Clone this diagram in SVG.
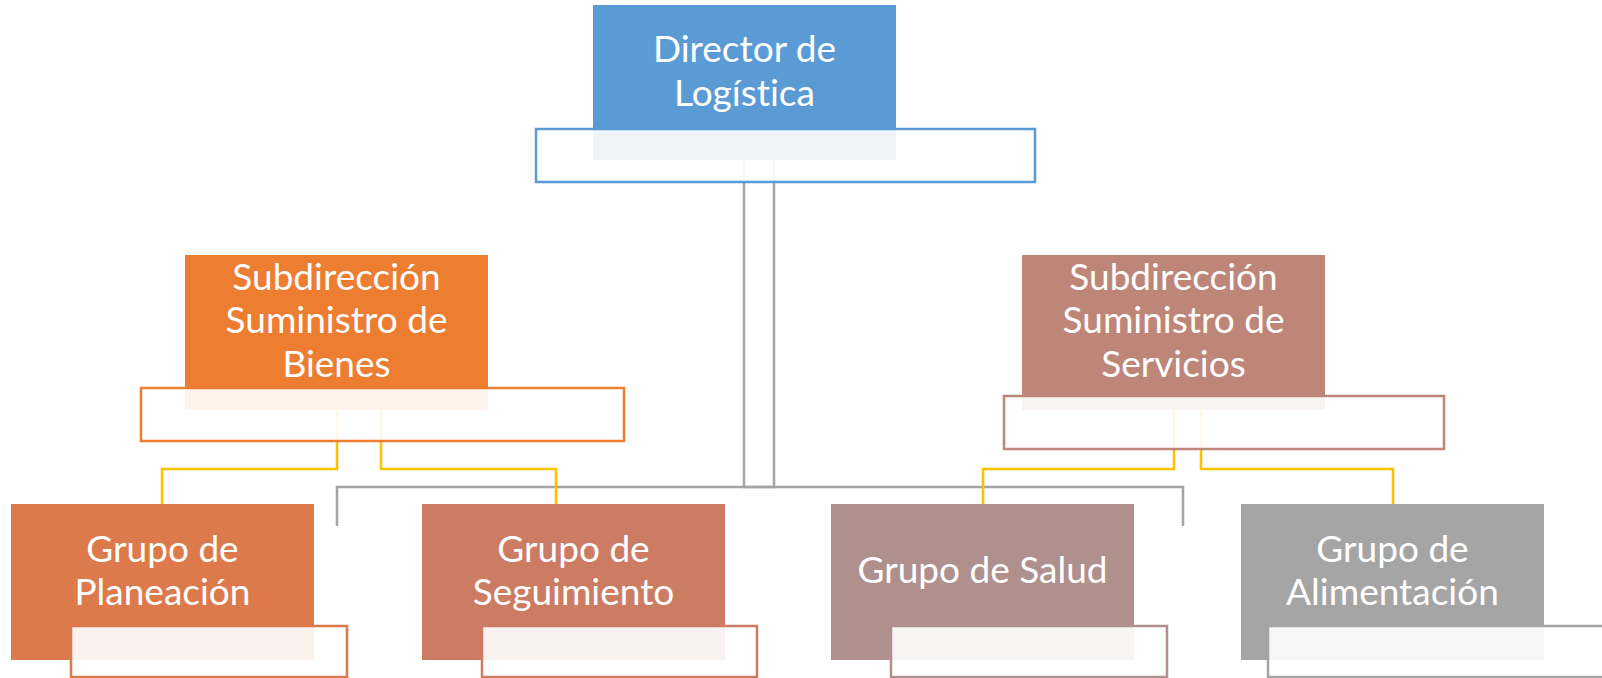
<svg xmlns="http://www.w3.org/2000/svg" width="1602" height="678" viewBox="0 0 1602 678">
<style>
.lbl{font-family:Lato,"Open Sans","Liberation Sans",sans-serif;font-size:37px;fill:#FFFFFF;text-anchor:middle;font-variant-ligatures:none;font-feature-settings:"liga" 0,"dlig" 0}
.ol{fill:#FFFFFF;fill-opacity:0.9;stroke-width:2.5}
.gc{fill:none;stroke:#A5A5A5;stroke-width:2.5}
.yc{fill:none;stroke:#FFC000;stroke-width:2.5}
</style>
<rect width="1602" height="678" fill="#FFFFFF"/>
<g id="connectors">
<path class="gc" d="M744,160 V487 H1183 V526"/>
<path class="gc" d="M774,160 V487 H337 V526"/>
<path class="yc" d="M337,410 V469 H162 V504"/>
<path class="yc" d="M381,410 V469 H556 V504"/>
<path class="yc" d="M1174,410 V469 H983 V504"/>
<path class="yc" d="M1201,410 V469 H1393 V504"/>
</g>
<g id="director">
<rect x="593" y="5" width="303" height="155" fill="#5B9BD5"/>
<rect class="ol" x="536" y="129" width="499" height="53" stroke="#5B9BD5"/>
<text class="lbl" x="744.5" y="62">Director de</text>
<text class="lbl" x="744.5" y="106">Logística</text>
</g>
<g id="sub-bienes">
<rect x="185" y="255" width="303" height="155" fill="#ED7D31"/>
<rect class="ol" x="141" y="388" width="483" height="53" stroke="#ED7D31"/>
<text class="lbl" x="336.5" y="290">Subdirección</text>
<text class="lbl" x="336.5" y="333">Suministro de</text>
<text class="lbl" x="336.5" y="377">Bienes</text>
</g>
<g id="sub-servicios">
<rect x="1022" y="255" width="303" height="155" fill="#BD8679"/>
<rect class="ol" x="1004" y="396" width="440" height="53" stroke="#BD8679"/>
<text class="lbl" x="1173.5" y="290">Subdirección</text>
<text class="lbl" x="1173.5" y="333">Suministro de</text>
<text class="lbl" x="1173.5" y="377">Servicios</text>
</g>
<g id="grupo-planeacion">
<rect x="11" y="504" width="303" height="156" fill="#DD7A4C"/>
<rect class="ol" x="71" y="626" width="276" height="51" stroke="#DD7A4C"/>
<text class="lbl" x="162.5" y="562">Grupo de</text>
<text class="lbl" x="162.5" y="605">Planeación</text>
</g>
<g id="grupo-seguimiento">
<rect x="422" y="504" width="303" height="156" fill="#CD7C64"/>
<rect class="ol" x="482" y="626" width="275" height="51" stroke="#CD7C64"/>
<text class="lbl" x="573.5" y="562">Grupo de</text>
<text class="lbl" x="573.5" y="605">Seguimiento</text>
</g>
<g id="grupo-salud">
<rect x="831" y="504" width="303" height="156" fill="#B0908D"/>
<rect class="ol" x="891" y="626" width="276" height="51" stroke="#B0908D"/>
<text class="lbl" x="982.5" y="583">Grupo de Salud</text>
</g>
<g id="grupo-alimentacion">
<rect x="1241" y="504" width="303" height="156" fill="#A5A5A5"/>
<rect class="ol" x="1268" y="626" width="345" height="51" stroke="#A5A5A5"/>
<text class="lbl" x="1392.5" y="562">Grupo de</text>
<text class="lbl" x="1392.5" y="605">Alimentación</text>
</g>
</svg>
